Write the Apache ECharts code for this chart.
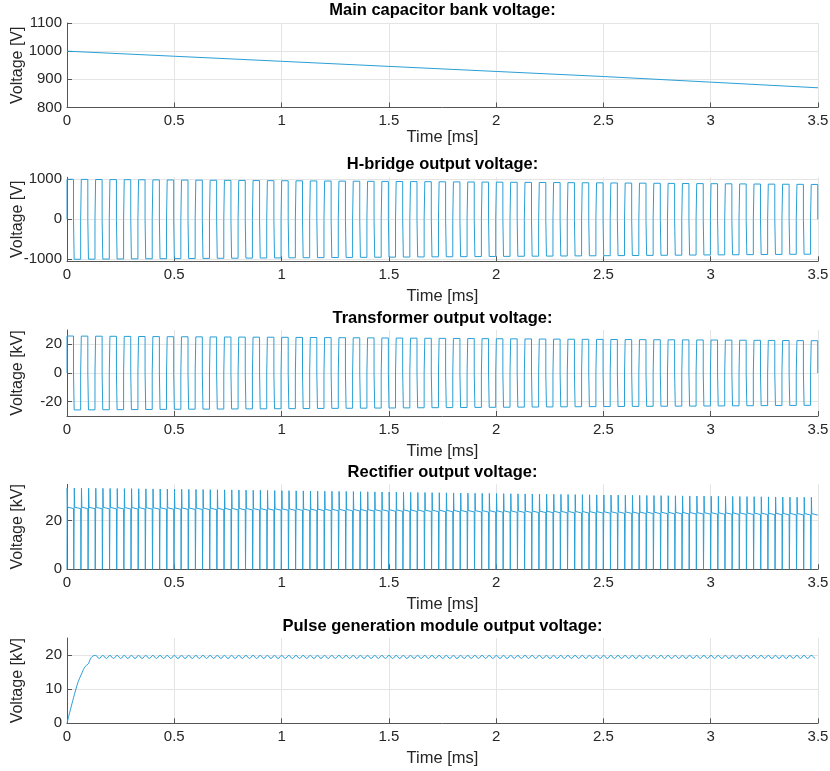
<!DOCTYPE html>
<html><head><meta charset="utf-8">
<script src="https://cdn.jsdelivr.net/npm/echarts@6/dist/echarts.min.js"></script>
<style>html,body{margin:0;padding:0;background:#fff}#c{width:830px;height:771px}</style>
</head><body><div id="c"></div>
<script>
// ---------- data ----------
const panelTitles = ['Main capacitor bank voltage:', 'H-bridge output voltage:', 'Transformer output voltage:', 'Rectifier output voltage:', 'Pulse generation module output voltage:'];
const yNames = ['Voltage [V]', 'Voltage [V]', 'Voltage [kV]', 'Voltage [kV]', 'Voltage [kV]'];
const xName = 'Time [ms]';
const timeTicksMs = [0, 0.5, 1, 1.5, 2, 2.5, 3, 3.5];
const yTicksCap = [800, 900, 1000, 1100];
const yTicksHB = [-1000, 0, 1000];
const yTicksTr = [-20, 0, 20];
const yTicksRect = [0, 20];
const yTicksPulse = [0, 10, 20];
const yRangeCap = [800, 1100];
const yRangeHB = [-1050, 1050];
const yRangeTr = [-30, 30];
const yRangeRect = [0, 35];
const yRangePulse = [0, 25];

// envelopes read at 0.5 ms steps
const envTimeMs = [0, 0.5, 1, 1.5, 2, 2.5, 3, 3.5];
const capVoltV = [1000, 982, 964, 946, 928, 910, 890, 870];
const hbridgePeakV = [1000, 982, 964, 946, 928, 910, 890, 870];
const trafoPeakKV = [25.8, 25.3, 24.9, 24.4, 23.9, 23.4, 23.0, 22.5];
const rectSpikeKV = [33.5, 33.0, 32.4, 31.8, 31.2, 30.6, 30.1, 29.6];
const rectPlateauKV = [25.0, 24.7, 24.3, 23.9, 23.5, 23.1, 22.7, 22.3];
const pulseRiseMs = [0, 0.047, 0.07, 0.084, 0.1, 0.107, 0.12];
const pulseRiseKV = [0, 11.2, 14.8, 16.6, 17.5, 18.6, 19.7];
const pulseRippleHighKV = [19.9, 19.9, 19.9, 19.9, 19.9, 19.9, 19.9, 19.9];
const pulseRippleLowKV = [19.0, 19.0, 19.0, 19.0, 19.0, 19.0, 19.0, 19.0];
// switching: ~52.5 periods over 3.5 ms
const switchPeriodMs = 0.0667;
const deadTimeMs = 0.003;

// ---------- building series from the arrays ----------
const tEnd = timeTicksMs[timeTicksMs.length - 1];
function env(arr, t) {
  for (let i = 0; i < envTimeMs.length - 1; i++) {
    if (t <= envTimeMs[i + 1]) {
      const f = (t - envTimeMs[i]) / (envTimeMs[i + 1] - envTimeMs[i]);
      return arr[i] + f * (arr[i + 1] - arr[i]);
    }
  }
  return arr[arr.length - 1];
}
function clip(pts) { return pts.filter(p => p[0] <= tEnd + 1e-9); }
function squareWave(peakArr) {
  const half = switchPeriodMs / 2;
  const pts = [[0, 0]];
  for (let k = 0; k * half < tEnd; k++) {
    const s = k * half;
    const v = (k % 2 === 0 ? 1 : -1) * env(peakArr, s);
    const e = Math.min(s + half - deadTimeMs, tEnd);
    pts.push([s, v], [e, v]);
    if (e < tEnd) pts.push([e, 0], [Math.min(s + half, tEnd), 0]);
  }
  return clip(pts);
}
function rectified() {
  const half = switchPeriodMs / 2;
  const pts = [];
  for (let k = 0; k * half < tEnd; k++) {
    const s = k * half;
    const P = env(rectPlateauKV, s), S = env(rectSpikeKV, s);
    if (k === 0) pts.push([0, 0]); else pts.push([s - deadTimeMs + 0.0012, 0], [s, 0]);
    pts.push([s + 0.0008, S], [s + 0.0025, P + 0.6], [s + 0.004, P + 1.2], [s + 0.006, P]);
    pts.push([Math.min(s + half - deadTimeMs, tEnd), P]);
  }
  return clip(pts);
}
function pulse() {
  const half = switchPeriodMs / 2;
  const pts = pulseRiseMs.map((t, i) => [t, pulseRiseKV[i]]);
  const tStart = pulseRiseMs[pulseRiseMs.length - 1];
  for (let k = 0; k * half <= tEnd; k++) {
    const s = k * half;
    if (s <= tStart + 0.005) continue;
    pts.push([s, env(pulseRippleHighKV, s)]);
    pts.push([s + half / 2, env(pulseRippleLowKV, s)]);
  }
  return clip(pts);
}
const seriesData = [
  envTimeMs.map((t, i) => [t, capVoltV[i]]),
  squareWave(hbridgePeakV),
  squareWave(trafoPeakKV),
  rectified(),
  pulse()
];
const yTicks = [yTicksCap, yTicksHB, yTicksTr, yTicksRect, yTicksPulse];
const yRanges = [yRangeCap, yRangeHB, yRangeTr, yRangeRect, yRangePulse];

// ---------- layout ----------
const FONT = '"Liberation Sans", Arial, Helvetica, sans-serif';
const gridTops = [23, 177.3, 330, 484.3, 638];
const gridHeights = [84.5, 84, 86, 85, 85.3];
const titleY = [10, 164, 318, 472, 626];
const xNameGaps = [20, 27, 27, 27, 27];
const lineColor = '#2a9fd6';
const axisColor = '#555';
const gridColor = '#e4e4e4';
const textColor = '#262626';

const grids = [], xAxes = [], yAxes = [], series = [], graphics = [];
for (let i = 0; i < 5; i++) {
  grids.push({ left: 67, right: 12, top: gridTops[i], height: gridHeights[i], containLabel: false, outerBoundsMode: 'none' });
  xAxes.push({
    type: 'value', gridIndex: i, min: timeTicksMs[0], max: tEnd, interval: 0.5,
    axisLine: { show: true, onZero: false, lineStyle: { color: axisColor, width: 1 } },
    axisTick: { show: true, inside: true, length: 5, lineStyle: { color: axisColor } },
    axisLabel: { color: textColor, fontSize: 15, fontFamily: FONT, margin: 6,
      formatter: v => String(v) },
    splitLine: { show: true, lineStyle: { color: gridColor, width: 1 } },
    name: xName, nameLocation: 'middle', nameGap: xNameGaps[i],
    nameTextStyle: { color: textColor, fontSize: 16.5, fontFamily: FONT }
  });
  yAxes.push({
    type: 'value', gridIndex: i, min: yRanges[i][0], max: yRanges[i][1],
    axisLine: { show: true, onZero: false, lineStyle: { color: axisColor, width: 1 } },
    axisTick: { show: true, inside: true, length: 5, customValues: yTicks[i], lineStyle: { color: axisColor } },
    axisLabel: { color: textColor, fontSize: 15, fontFamily: FONT, margin: 5, customValues: yTicks[i],
      formatter: v => String(v) },
    splitLine: { show: true, lineStyle: { color: gridColor, width: 1 } }
  });
  series.push({
    type: 'line', xAxisIndex: i, yAxisIndex: i, data: seriesData[i],
    showSymbol: false, symbol: 'none', sampling: null, clip: true,
    smooth: i === 4 ? 0.4 : false,
    lineStyle: { color: lineColor, width: 1 }, itemStyle: { color: lineColor }
  });
  graphics.push({
    type: 'text', x: 442.5, y: titleY[i],
    style: { text: panelTitles[i], align: 'center', verticalAlign: 'middle', textAlign: 'center', textVerticalAlign: 'middle',
      font: 'bold 16.5px ' + FONT, fill: '#000' }
  });
  graphics.push({
    type: 'text', x: 17.5, y: gridTops[i] + gridHeights[i] / 2, rotation: Math.PI / 2,
    style: { text: yNames[i], align: 'center', verticalAlign: 'middle', textAlign: 'center', textVerticalAlign: 'middle',
      font: '16px ' + FONT, fill: textColor }
  });
}

const chart = echarts.init(document.getElementById('c'), null, { renderer: 'canvas' });
chart.setOption({
  animation: false,
  backgroundColor: '#fff',
  grid: grids, xAxis: xAxes, yAxis: yAxes, series: series, graphic: graphics
});
</script></body></html>
